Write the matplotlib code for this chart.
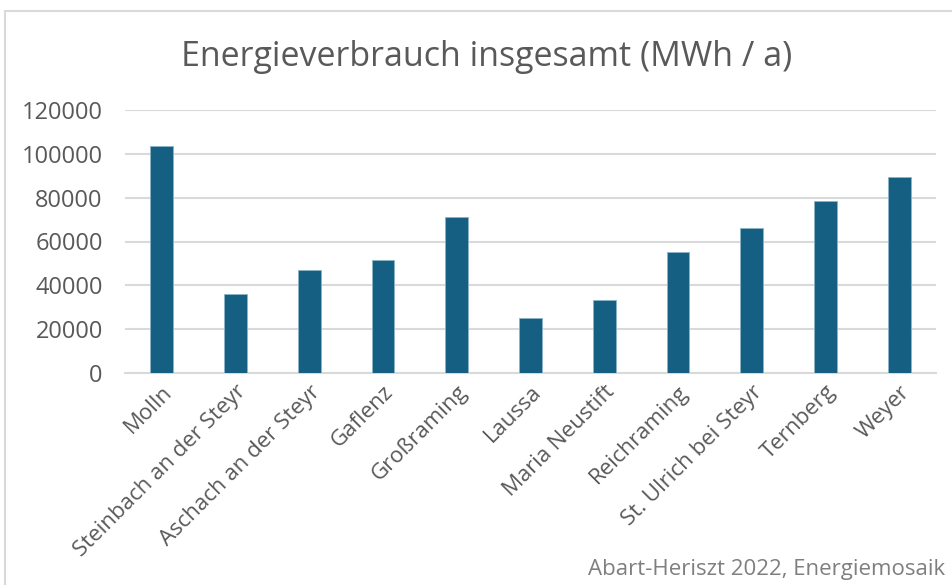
import matplotlib.pyplot as plt
from matplotlib.patches import Rectangle

gemeinden = ["Molln", "Steinbach an der Steyr", "Aschach an der Steyr", "Gaflenz",
             "Großraming", "Laussa", "Maria Neustift", "Reichraming",
             "St. Ulrich bei Steyr", "Ternberg", "Weyer"]
verbrauch = [103600, 36200, 46900, 51600, 71100, 25100, 33500, 55300, 66100, 78600, 89600]
y_ticks = [0, 20000, 40000, 60000, 80000, 100000, 120000]

plt.rcParams['font.family'] = ['Open Sans', 'DejaVu Sans']
text_col = '#595959'

fig = plt.figure(figsize=(9.52, 5.85), dpi=100)
ax = fig.add_axes([125 / 952, 1 - 373 / 585, 811 / 952, 263 / 585])

# chart frame (only top/left visible in the crop)
fig.patches.append(Rectangle((5 / 952, -0.1), 1.2, (1 - 11 / 585) + 0.1,
                             transform=fig.transFigure, fill=False,
                             edgecolor='#D9D9D9', linewidth=1.5))

x = range(len(gemeinden))
ax.bar(x, verbrauch, width=0.31, color='#156082', edgecolor='#8DB3C7',
       linewidth=0.6, zorder=3)

ax.set_xlim(-0.5, len(gemeinden) - 0.5)
ax.set_ylim(0, 120000)
ax.set_yticks(y_ticks)
ax.set_yticklabels([str(v) for v in y_ticks])
ax.yaxis.grid(True, color='#D9D9D9', linewidth=1.5, zorder=0)
ax.set_axisbelow(True)
for s in ['top', 'right', 'left']:
    ax.spines[s].set_visible(False)
ax.spines['bottom'].set_color('#D9D9D9')
ax.spines['bottom'].set_linewidth(1.5)
ax.tick_params(axis='both', length=0, colors=text_col)
ax.tick_params(axis='y', pad=16, labelsize=17)

ax.set_xticks(list(x))
ax.set_xticklabels(gemeinden, rotation=45, ha='right', rotation_mode='anchor',
                   fontsize=16, color=text_col)
ax.tick_params(axis='x', pad=6)

fig.text(487 / 952, 1 - 57 / 585, "Energieverbrauch insgesamt (MWh / a)",
         ha='center', va='center', fontsize=24.5, color=text_col)
fig.text(945 / 952, 1 - 570 / 585, "Abart-Heriszt 2022, Energiemosaik",
         ha='right', va='center', fontsize=16, color='#7F7F7F')

fig.savefig("out.png", dpi=100)
